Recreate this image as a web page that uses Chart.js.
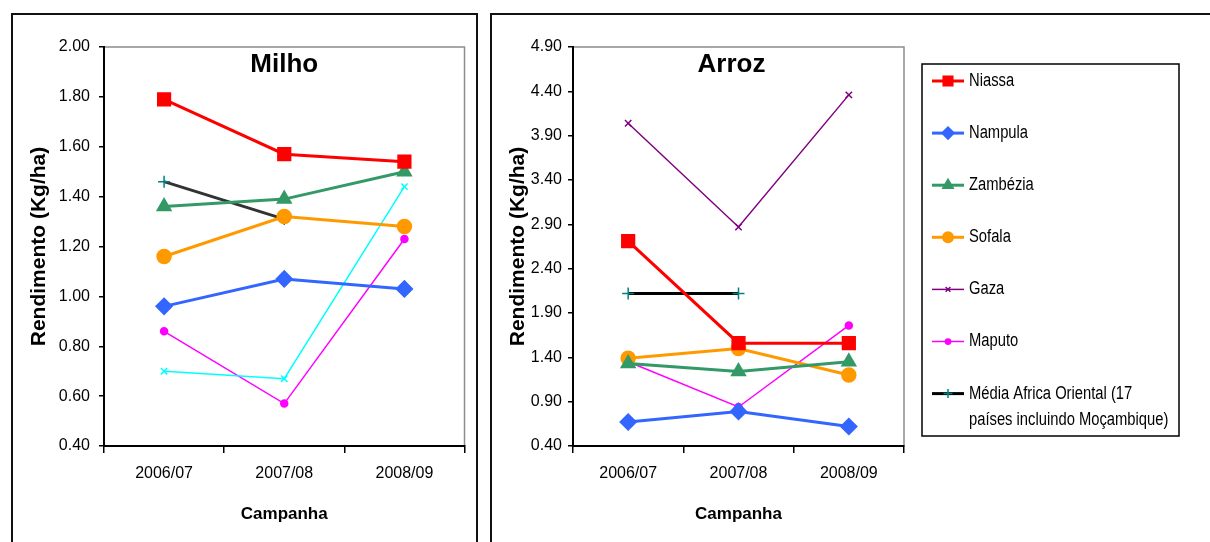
<!DOCTYPE html>
<html>
<head>
<meta charset="utf-8">
<script src="https://cdn.jsdelivr.net/npm/chart.js@4/dist/chart.umd.min.js"></script>
<style>
  html, body { margin: 0; padding: 0; background: #fff; width: 1210px; height: 542px; overflow: hidden; }
  .frame { position: absolute; border: 2px solid #111; box-sizing: border-box; }
  canvas { position: absolute; }
</style>
</head>
<body>
<div class="frame" style="left:11px; top:13px; width:467px; height:560px;"></div>
<div class="frame" style="left:490px; top:13px; width:740px; height:560px;"></div>
<canvas id="milho" width="462" height="527" style="left:13px; top:15px;"></canvas>
<canvas id="arroz" width="718" height="527" style="left:492px; top:15px;"></canvas>
<script>
// campanhas agrícolas
const categories = ['2006/07', '2007/08', '2008/09'];

// Milho – rendimento por província
const niassaMilho   = [1.79, 1.57, 1.54];
const nampulaMilho  = [0.96, 1.07, 1.03];
const zambeziaMilho = [1.36, 1.39, 1.50];
const sofalaMilho   = [1.16, 1.32, 1.28];
const gazaMilho     = [0.70, 0.67, 1.44];
const maputoMilho   = [0.86, 0.57, 1.23];
const mediaMilho    = [1.46, 1.31, null];

// Arroz – rendimento por província
const niassaArroz   = [2.71, 1.56, 1.56];
const nampulaArroz  = [0.67, 0.79, 0.62];
const zambeziaArroz = [1.33, 1.24, 1.35];
const sofalaArroz   = [1.39, 1.50, 1.20];
const gazaArroz     = [4.04, 2.87, 4.36];
const maputoArroz   = [1.35, 0.84, 1.76];
const mediaArroz    = [2.12, 2.12, null];

const seriesNames = ['Niassa', 'Nampula', 'Zambézia', 'Sofala', 'Gaza', 'Maputo'];
const mediaLines = ['Média Africa Oriental (17', 'países incluindo Moçambique)'];

const milhoTicks = { min: 0.4, max: 2.0, step: 0.2 };
const arrozTicks = { min: 0.4, max: 4.9, step: 0.5 };

Chart.defaults.font.family = '"Liberation Sans", Arial, sans-serif';
Chart.defaults.color = '#000';

function styles(gazaColor, mediaColor) {
  return [
    { borderColor: '#ff0000', pointBackgroundColor: '#ff0000', pointBorderColor: '#ff0000', pointStyle: 'rect', pointRadius: 9, borderWidth: 3 },
    { borderColor: '#3366ff', pointBackgroundColor: '#3366ff', pointBorderColor: '#3366ff', pointStyle: 'rectRot', pointRadius: 8, borderWidth: 3 },
    { borderColor: '#339966', pointBackgroundColor: '#339966', pointBorderColor: '#339966', pointStyle: 'triangle', pointRadius: 8, borderWidth: 3 },
    { borderColor: '#ff9900', pointBackgroundColor: '#ff9900', pointBorderColor: '#ff9900', pointStyle: 'circle', pointRadius: 7, borderWidth: 3 },
    { borderColor: gazaColor, pointBackgroundColor: gazaColor, pointBorderColor: gazaColor, pointStyle: 'crossRot', pointRadius: 4.5, borderWidth: 1.5 },
    { borderColor: '#ff00ff', pointBackgroundColor: '#ff00ff', pointBorderColor: '#ff00ff', pointStyle: 'circle', pointRadius: 3.5, borderWidth: 1.5 },
    { borderColor: mediaColor, pointBackgroundColor: '#008080', pointBorderColor: '#008080', pointStyle: 'cross', pointRadius: 6, borderWidth: 3 }
  ];
}

function buildDatasets(values, gazaColor, mediaColor) {
  const st = styles(gazaColor, mediaColor);
  return values.map((data, i) => Object.assign({
    label: i < seriesNames.length ? seriesNames[i] : mediaLines.join(' '),
    data: data,
    pointBorderWidth: 1.5,
    pointHoverRadius: st[i].pointRadius,
    tension: 0,
    fill: false
  }, st[i]));
}

// moldura cinzenta da área do gráfico (topo e direita)
const plotFrame = {
  id: 'plotFrame',
  beforeDraw(chart) {
    const { ctx, chartArea: a } = chart;
    ctx.save();
    ctx.strokeStyle = '#8c8c8c';
    ctx.lineWidth = 1.5;
    ctx.strokeRect(a.left, a.top, a.right - a.left, a.bottom - a.top);
    ctx.restore();
  }
};

// título dentro da área do gráfico
const panelTitle = {
  id: 'panelTitle',
  afterDraw(chart, args, opts) {
    const { ctx, chartArea: a } = chart;
    ctx.save();
    ctx.font = 'bold 26px "Liberation Sans", Arial, sans-serif';
    ctx.fillStyle = '#000';
    ctx.textAlign = 'center';
    ctx.textBaseline = 'middle';
    ctx.fillText(opts.text, (a.left + a.right) / 2 + (opts.dx || 0), opts.y);
    ctx.restore();
  }
};

// legenda em caixa à direita do gráfico do arroz (texto estreito, tipo Arial Narrow)
const boxLegend = {
  id: 'boxLegend',
  afterDraw(chart, args, opts) {
    if (!opts.show) return;
    const { ctx } = chart;
    ctx.save();
    ctx.strokeStyle = '#000';
    ctx.lineWidth = 1.5;
    ctx.strokeRect(opts.left, opts.top, opts.width, opts.height);
    chart.data.datasets.forEach((ds, i) => {
      const y = opts.firstY + i * opts.rowGap;
      ctx.strokeStyle = ds.borderColor;
      ctx.lineWidth = ds.borderWidth;
      ctx.beginPath();
      ctx.moveTo(opts.x0, y);
      ctx.lineTo(opts.x1, y);
      ctx.stroke();
      ctx.fillStyle = ds.pointBackgroundColor;
      ctx.strokeStyle = ds.pointBorderColor;
      ctx.lineWidth = ds.pointBorderWidth;
      Chart.helpers.drawPoint(ctx, {
        pointStyle: ds.pointStyle,
        radius: ds.pointRadius * 0.75,
        rotation: 0,
        borderWidth: ds.pointBorderWidth
      }, (opts.x0 + opts.x1) / 2, y);
      const lines = i < seriesNames.length ? [ds.label] : mediaLines;
      ctx.fillStyle = '#000';
      ctx.font = opts.font;
      ctx.textBaseline = 'middle';
      ctx.textAlign = 'left';
      lines.forEach((t, k) => {
        ctx.save();
        ctx.translate(opts.textX, y + k * opts.lineGap);
        ctx.scale(opts.squeeze, 1);
        ctx.fillText(t, 0, 0);
        ctx.restore();
      });
    });
    ctx.restore();
  }
};

function makeChart(id, values, ticks, gazaColor, mediaColor, geo) {
  return new Chart(document.getElementById(id), {
    type: 'line',
    data: { labels: categories, datasets: buildDatasets(values, gazaColor, mediaColor) },
    plugins: [plotFrame, panelTitle, boxLegend],
    options: {
      responsive: false,
      animation: false,
      devicePixelRatio: 1,
      layout: { padding: { left: 0, right: geo.padRight, top: 32, bottom: 0 } },
      scales: {
        x: {
          offset: true,
          grid: { offset: true, drawOnChartArea: false, tickLength: 7, color: '#000', lineWidth: 1.5 },
          border: { color: '#000', width: 2 },
          ticks: { font: { size: 16 }, padding: 11, color: '#000' },
          title: { display: true, text: 'Campanha', font: { size: 17, weight: 'bold' }, padding: { top: 0, bottom: 17 } },
          afterFit(scale) { scale.height = 96; }
        },
        y: {
          min: ticks.min,
          max: ticks.max,
          grid: { drawOnChartArea: false, tickLength: 5, color: '#000', lineWidth: 1.5 },
          border: { color: '#000', width: 2 },
          ticks: { stepSize: ticks.step, font: { size: 16 }, padding: geo.tickPad, color: '#000',
                   callback: v => Number(v).toFixed(2) },
          title: { display: true, text: 'Rendimento (Kg/ha)', font: { size: 21, weight: 'bold' }, padding: { top: 14, bottom: 0 } },
          afterFit(scale) { scale.width = geo.yWidth; }
        }
      },
      plugins: {
        legend: { display: false },
        tooltip: { enabled: false },
        panelTitle: { text: geo.title, dx: geo.titleDx, y: 50 },
        boxLegend: geo.legend
      }
    }
  });
}

makeChart('milho',
  [niassaMilho, nampulaMilho, zambeziaMilho, sofalaMilho, gazaMilho, maputoMilho, mediaMilho],
  milhoTicks, '#00ffff', '#333333',
  { padRight: 8, yWidth: 91, tickPad: 9, title: 'Milho', titleDx: 0, legend: { show: false } });

makeChart('arroz',
  [niassaArroz, nampulaArroz, zambeziaArroz, sofalaArroz, gazaArroz, maputoArroz, mediaArroz],
  arrozTicks, '#800080', '#000000',
  { padRight: 306, yWidth: 81, tickPad: 6, title: 'Arroz', titleDx: -7,
    legend: { show: true, left: 430, top: 49, width: 257, height: 372,
              firstY: 66, rowGap: 52.1, x0: 440, x1: 472, textX: 477, lineGap: 26.5, squeeze: 0.82,
              font: '18px "Liberation Sans", Arial, sans-serif' } });
</script>
</body>
</html>
